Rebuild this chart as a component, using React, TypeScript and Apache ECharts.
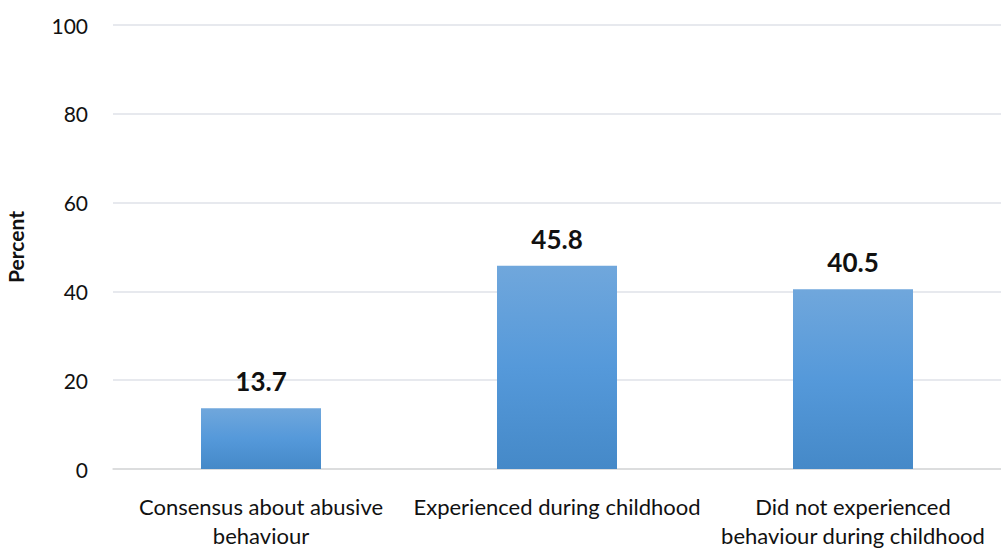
import React, { useEffect, useRef } from "react";
import * as echarts from "echarts";

const categories = [
  "Consensus about abusive\nbehaviour",
  "Experienced during childhood",
  "Did not experienced\nbehaviour during childhood",
];
const values = [13.7, 45.8, 40.5];
const yAxisName = "Percent";

export default function App() {
  const ref = useRef<HTMLDivElement>(null);
  useEffect(() => {
    const chart = echarts.init(ref.current!, null, { renderer: "svg" });
    const font = "Lato, 'Open Sans', sans-serif";
    chart.setOption({
      animation: false,
      backgroundColor: "#fff",
      grid: {
        left: 113,
        right: 0,
        top: 25,
        bottom: 80,
        containLabel: false,
        outerBoundsMode: "none",
      },
      xAxis: {
        type: "category",
        data: categories,
        axisLine: { show: true, lineStyle: { color: "#d9d9d9", width: 1.5 } },
        axisTick: { show: false },
        axisLabel: {
          color: "#111",
          fontFamily: font,
          fontSize: 22,
          lineHeight: 29,
          margin: 23,
          interval: 0,
        },
      },
      yAxis: {
        type: "value",
        min: 0,
        max: 100,
        interval: 20,
        name: yAxisName,
        nameLocation: "middle",
        nameGap: 87,
        nameRotate: 90,
        nameTextStyle: { color: "#111", fontFamily: font, fontSize: 21, fontWeight: "bold" },
        axisLine: { show: false },
        axisTick: { show: false },
        splitLine: { lineStyle: { color: "#dfe2e8", width: 1.5 } },
        axisLabel: { color: "#111", fontFamily: font, fontSize: 21, margin: 25 },
      },
      series: [
        {
          type: "bar",
          data: values,
          barWidth: 120,
          itemStyle: {
            color: new echarts.graphic.LinearGradient(0, 0, 0, 1, [
              { offset: 0, color: "#70a7dc" },
              { offset: 0.5, color: "#5599da" },
              { offset: 1, color: "#4589c8" },
            ]),
          },
          label: {
            show: true,
            position: "top",
            distance: 14,
            color: "#111",
            fontFamily: font,
            fontSize: 26,
            fontWeight: "bold",
            formatter: (p: any) => p.value.toFixed(1),
          },
        },
      ],
    });
    return () => chart.dispose();
  }, []);
  return (
    <div
      ref={ref}
      style={{ position: "absolute", left: 0, top: 0, width: 1001, height: 549 }}
    />
  );
}
